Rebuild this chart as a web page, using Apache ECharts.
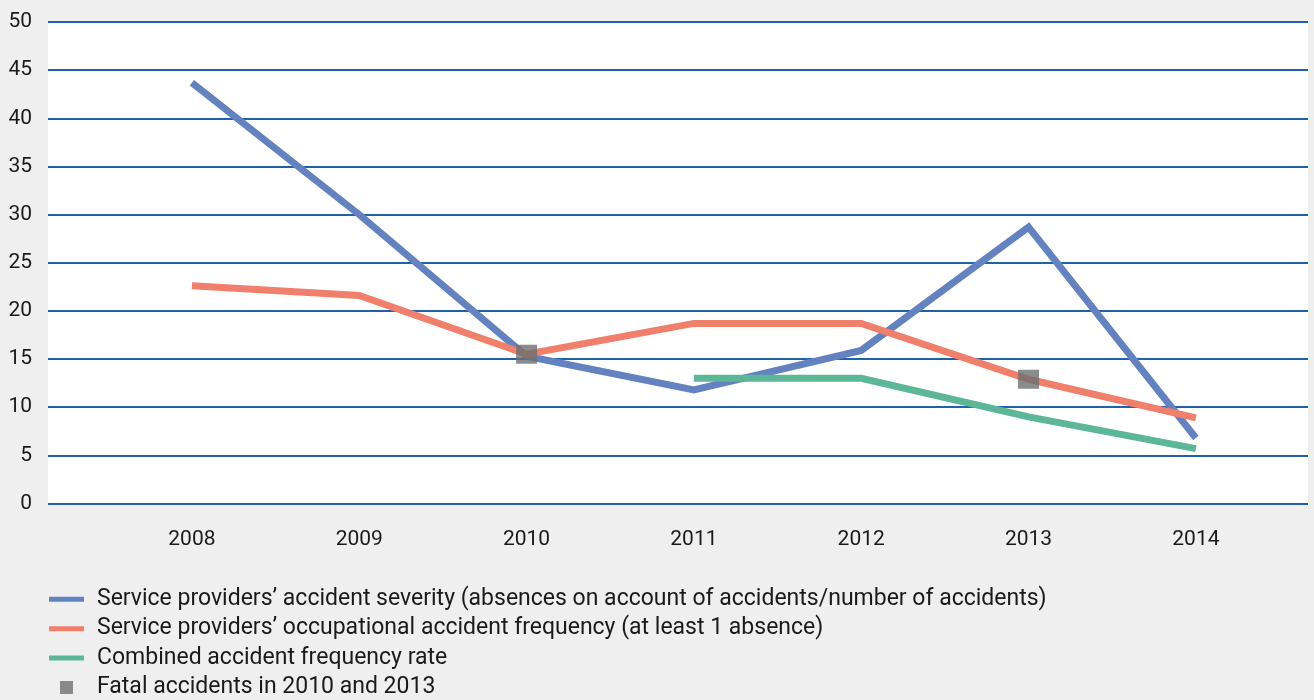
<!DOCTYPE html>
<html>
<head>
    <meta charset="utf-8">
    <title>Accident indicators</title>
    <style>
        html, body{
            margin: 0;
            padding: 0;
            background: #efefef;
        }
        #container{
            width: 1314px;
            height: 700px;
        }
    </style>
</head>
<body>
    <div id="container"></div>
    <script src="https://cdn.jsdelivr.net/npm/echarts@6/dist/echarts.min.js"></script>
    <script type="text/javascript">
    // values
    var years = [2008, 2009, 2010, 2011, 2012, 2013, 2014];
    var yTicks = [0, 5, 10, 15, 20, 25, 30, 35, 40, 45, 50];
    var severity = [43.7, 30.0, 15.3, 11.8, 15.9, 28.7, 6.8];
    var frequency = [22.6, 21.6, 15.5, 18.7, 18.7, 12.9, 8.9];
    var combined = [null, null, null, 13.0, 13.0, 9.0, 5.7];
    var fatal = [null, null, 15.5, null, null, 12.9, null];

    var names = [
        'Service providers\u2019 accident severity (absences on account of accidents/number of accidents)',
        'Service providers\u2019 occupational accident frequency (at least 1 absence)',
        'Combined accident frequency rate',
        'Fatal accidents in 2010 and 2013'
    ];

    // pair years with values, skip empty ones
    function pairs(values) {
        var out = [];
        for (var i = 0; i < years.length; i++) {
            if (values[i] !== null) out.push([years[i], values[i]]);
        }
        return out;
    }

    var lineIcon = 'path://M0,0H35V5H0Z';
    var squareIcon = 'path://M0,0H13V13H0Z';

    var myChart = echarts.init(document.getElementById('container'));

    var option = {
        backgroundColor: '#efefef',
        animation: false,
        textStyle: { fontFamily: 'Roboto' },
        grid: {
            left: 48,
            right: 6,
            top: 22,
            bottom: 196.5,
            show: true,
            backgroundColor: '#ffffff',
            borderWidth: 0
        },
        xAxis: {
            type: 'value',
            min: 2007.14,
            max: 2014.67,
            axisLine: { show: false },
            axisTick: { show: false },
            splitLine: { show: false },
            axisLabel: {
                customValues: years,
                margin: 26,
                fontSize: 21,
                color: '#1a1a1a',
                formatter: function (v) { return String(v); }
            }
        },
        yAxis: {
            type: 'value',
            min: yTicks[0],
            max: yTicks[yTicks.length - 1],
            interval: 5,
            axisLine: { show: false },
            axisTick: { show: false },
            axisLabel: {
                margin: 16,
                fontSize: 21,
                color: '#1a1a1a'
            },
            splitLine: {
                lineStyle: { color: '#1f62aa', width: 2 }
            }
        },
        legend: {
            orient: 'vertical',
            left: 49,
            top: 587.3,
            padding: 0,
            itemWidth: 35,
            itemHeight: 13,
            itemGap: 5.4,
            symbolKeepAspect: true,
            textStyle: {
                fontSize: 23,
                color: '#1a1a1a',
                lineHeight: 24,
                padding: [0, 0, 0, 8]
            },
            data: [
                { name: names[0], icon: lineIcon },
                { name: names[1], icon: lineIcon },
                { name: names[2], icon: lineIcon },
                { name: names[3], icon: squareIcon }
            ]
        },
        series: [
            {
                name: names[0],
                type: 'line',
                symbol: 'none',
                color: '#6482c0',
                lineStyle: { width: 7, join: 'miter' },
                data: pairs(severity)
            },
            {
                name: names[1],
                type: 'line',
                symbol: 'none',
                color: '#f07f6c',
                lineStyle: { width: 7, join: 'miter' },
                data: pairs(frequency)
            },
            {
                name: names[2],
                type: 'line',
                symbol: 'none',
                color: '#5bb795',
                lineStyle: { width: 7, join: 'miter' },
                data: pairs(combined)
            },
            {
                name: names[3],
                type: 'scatter',
                symbol: 'rect',
                symbolSize: [21, 19],
                color: '#6e6f71',
                z: 5,
                data: pairs(fatal)
            }
        ]
    };

    myChart.setOption(option);
    </script>
</body>
</html>
